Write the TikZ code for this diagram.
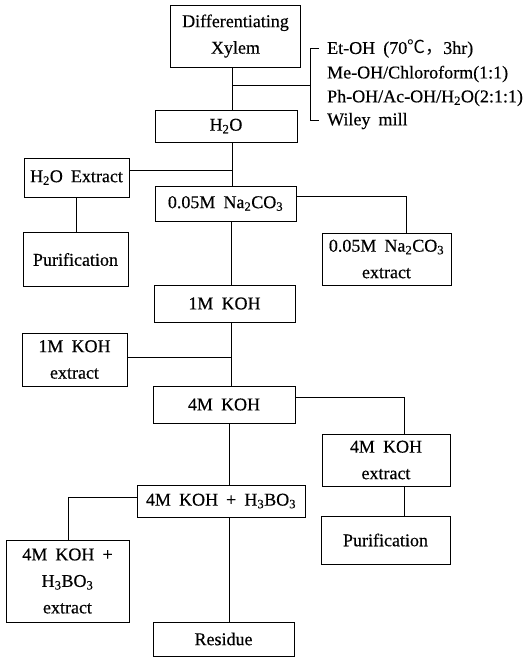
\documentclass[tikz,border=0pt]{standalone}
\usepackage{fontspec}
\setmainfont[FakeBold=0.4]{Liberation Serif}
\newfontfamily\cjk{Noto Sans CJK SC}
\newcommand\wsp{\hspace{0.45em}}
\newcommand\sbs[1]{\textsubscript{#1}}
\begin{document}
\begin{tikzpicture}[x=1pt,y=-1pt,
  txt/.style={font=\fontsize{18}{26.5}\selectfont},
  box/.style={txt, draw, line width=0.8pt, align=center, inner sep=0pt},
  ln/.style={line width=0.8pt}]
\useasboundingbox (0,0) rectangle (526,657);
% boxes
\node[box, minimum width=130, minimum height=62] (dx) at (235.5,36) {Differentiating\\Xylem};
\node[box, minimum width=142, minimum height=32] (h2o) at (226,126) {H\sbs{2}O};
\node[box, minimum width=105, minimum height=39] (h2oext) at (76.5,177.5) {H\sbs{2}O\wsp Extract};
\node[box, minimum width=105, minimum height=54] (pur1) at (75.5,259.5) {Purification};
\node[box, minimum width=141, minimum height=35] (na) at (225.5,203.5) {0.05M\wsp Na\sbs{2}CO\sbs{3}};
\node[box, minimum width=129, minimum height=52] (naext) at (386.5,259) {0.05M\wsp Na\sbs{2}CO\sbs{3}\\extract};
\node[box, minimum width=141, minimum height=37] (k1) at (224.5,303.5) {1M\wsp KOH};
\node[box, minimum width=105, minimum height=53] (k1ext) at (74.5,359.5) {1M\wsp KOH\\extract};
\node[box, minimum width=142, minimum height=37] (k4) at (224,404.5) {4M\wsp KOH};
\node[box, minimum width=128, minimum height=52] (k4ext) at (386,460) {4M\wsp KOH\\extract};
\node[box, minimum width=129, minimum height=48] (pur2) at (385.5,540) {Purification};
\node[box, minimum width=168, minimum height=32] (kb) at (221,501) {4M\wsp KOH\wsp +\wsp H\sbs{3}BO\sbs{3}};
\node[box, minimum width=123, minimum height=82] (kbext) at (67.5,581) {4M\wsp KOH\wsp +\\H\sbs{3}BO\sbs{3}\\extract};
\node[box, minimum width=141, minimum height=34] (res) at (223.5,639) {Residue};
% bracket labels
\node[txt, anchor=west, inner sep=0pt] (l1) at (327,49) {Et-OH\wsp(70{\cjk ℃，}3hr)};
\node[txt, anchor=west, inner sep=0pt] (l2) at (327,74) {Me-OH/Chloroform(1:1)};
\node[txt, anchor=west, inner sep=0pt] (l3) at (327,98) {Ph-OH/Ac-OH/H\sbs{2}O(2:1:1)};
\node[txt, anchor=west, inner sep=0pt] (l4) at (327,121) {Wiley\wsp mill};
% coordinates
\coordinate (t1) at (232,0);
\coordinate (t2) at (231,0);
\coordinate (t3) at (229,0);
\coordinate (b1) at (232,85);
\coordinate (b2) at (310,85);
\coordinate (bt) at (319,48);
\coordinate (bb) at (319,120);
\coordinate (c1) at (232,170);
\coordinate (c2) at (406,196);
\coordinate (c3) at (231,357);
\coordinate (c4) at (404,397);
\coordinate (c5) at (68,497);
% connectors
\draw[ln] (dx.south -| t1) -- (h2o.north -| t1);
\draw[ln] (b1) -- (b2);
\draw[ln] (bt) -- (bt -| b2) -- (bb -| b2) -- (bb);
\draw[ln] (h2o.south -| t1) -- (na.north -| t1);
\draw[ln] (c1) -- (c1 -| h2oext.east);
\draw[ln] (h2oext.south) -- (h2oext.south |- pur1.north);
\draw[ln] (c2 -| na.east) -- (c2) -- (naext.north -| c2);
\draw[ln] (na.south -| t2) -- (k1.north -| t2);
\draw[ln] (k1.south -| t2) -- (k4.north -| t2);
\draw[ln] (c3) -- (c3 -| k1ext.east);
\draw[ln] (c4 -| k4.east) -- (c4) -- (k4ext.north -| c4);
\draw[ln] (k4ext.south -| c4) -- (pur2.north -| c4);
\draw[ln] (k4.south -| t3) -- (kb.north -| t3);
\draw[ln] (c5 -| kb.west) -- (c5) -- (kbext.north -| c5);
\draw[ln] (kb.south -| t3) -- (res.north -| t3);
\end{tikzpicture}
\end{document}
